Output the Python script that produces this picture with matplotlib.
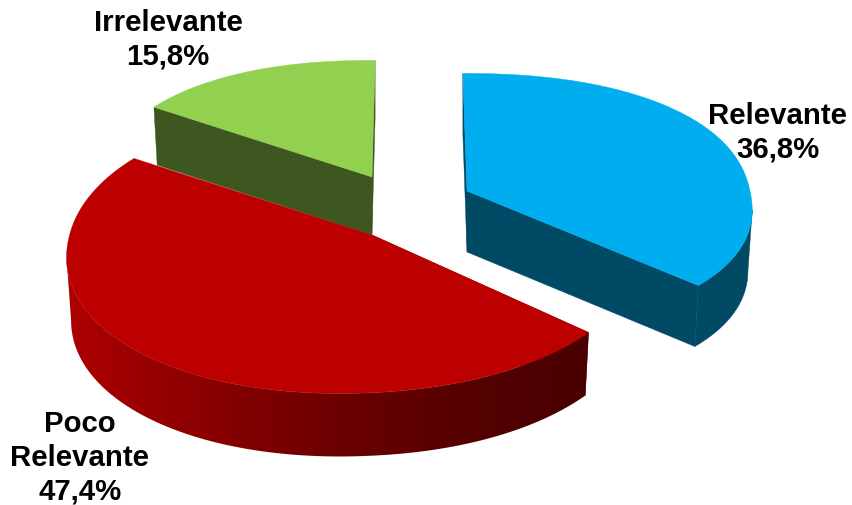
import numpy as np
from matplotlib import pyplot as plt
from matplotlib.patches import Polygon
from matplotlib.colors import LinearSegmentedColormap

labels = ["Relevante\n36,8%", "Poco\nRelevante\n47,4%", "Irrelevante\n15,8%"]
shares = [36.8, 47.4, 15.8]
tops = ["#00AEEF", "#BC0000", "#92D050"]
sides = ["#004A66", "#7A0000", "#3E5620"]

# per slice projection: apex x, apex y, A, B, k, m, S, T, depth, fullness
views = [
    (467, 192, 283, 127, 0.08, 0.00, 4.5, 0, 61, 0.9),
    (372, 236, 285, 142, 0.10, 0.06, -2, -3, 63, 0.96),
    (372, 178, 270, 126, 0.08, 0.00, -3.4, 0, 58, 0.9),
]
label_pos = [(778, 133), (80, 458), (168, 40)]


def project(ang, view, rad=1.0, low=False):
    ax0, ay0, A, B, k, m, S, T, depth, p = view
    s, c = np.sin(ang), np.cos(ang)
    u = rad * np.sign(s) * np.abs(s) ** p
    v = -rad * np.sign(c) * np.abs(c) ** p
    d = 1 - k * v + m * u
    x = (A * u + S * v) / d
    y = (B * v + T * u) / d
    if low:
        return ax0 + 0.985 * x, ay0 + y + depth
    return ax0 + x, ay0 + y


fig = plt.figure(figsize=(8.52, 5.06), dpi=100)
ax = fig.add_axes([0, 0, 1, 1])
ax.axis("off")

edges = np.radians(np.cumsum([0] + shares) / sum(shares) * 360)
order = [2, 0, 1]

for i in order:
    a0, a1 = edges[i], edges[i + 1]
    view = views[i]
    ang = np.linspace(a0, a1, 400)
    apex = project(0, view, rad=0)
    apex_low = project(0, view, rad=0, low=True)

    # cut faces
    for a in (a0, a1):
        p = project(a, view)
        q = project(a, view, low=True)
        ax.add_patch(Polygon([apex, p, q, apex_low], closed=True, fc=sides[i], ec=sides[i], lw=0.3, zorder=2 + i))

    xt, yt = project(ang, view)

    # outer wall, between the silhouette points of the rim
    if a1 > np.pi / 2 and a0 < 3 * np.pi / 2:
        lo = ang[np.argmax(xt)] if a0 < np.pi / 2 else a0
        hi = ang[np.argmin(xt)] if a1 > 3 * np.pi / 2 else a1
        front = np.linspace(lo, hi, 300)
        xf, yf = project(front, view)
        xb, yb = project(front, view, low=True)
        wall = np.column_stack([np.r_[xf, xb[::-1]], np.r_[yf, yb[::-1]]])
        poly = Polygon(wall, closed=True, fc=sides[i], ec=sides[i], lw=0.3, zorder=2 + i)
        ax.add_patch(poly)
        if i == 1:
            poly.set_facecolor("none")
            poly.set_edgecolor("none")
            cmap = LinearSegmentedColormap.from_list("wall", ["#AE0000", "#8C0000", "#6E0000", "#560000", "#480000"])
            im = ax.imshow(np.linspace(0, 1, 256)[None, :], extent=(66, 590, 470, 150), cmap=cmap, aspect="auto", zorder=2 + i)
            im.set_clip_path(poly)
    if i == 1:
        ax.plot([apex[0], xt[-1]], [apex[1], yt[-1]], color="white", lw=1.6, zorder=2.5 + i)

    # top face
    top = np.vstack([apex, np.column_stack([xt, yt])])
    ax.add_patch(Polygon(top, closed=True, fc=tops[i], ec=tops[i], lw=0.3, zorder=3 + i))

for txt, (x, y) in zip(labels, label_pos):
    ax.text(x, y, txt, ha="center", va="center", fontsize=21.2, fontweight="bold",
            family="Liberation Sans", color="black", zorder=10, linespacing=1.25)

ax.set_xlim(0, 852)
ax.set_ylim(506, 0)
fig.savefig("out.png", dpi=100)
